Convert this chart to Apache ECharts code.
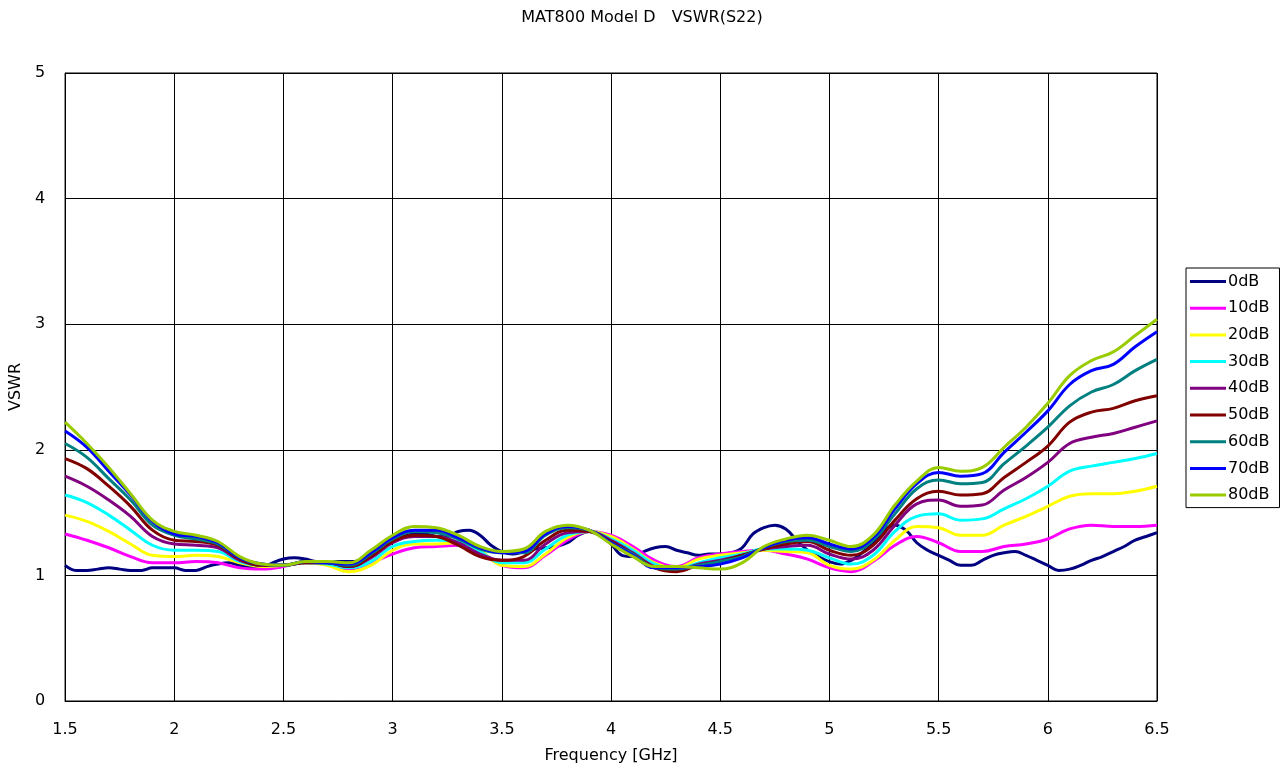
<!DOCTYPE html>
<html>
<head>
<meta charset="utf-8">
<script src="https://cdn.jsdelivr.net/npm/echarts@6/dist/echarts.min.js"></script>
<style>html,body{margin:0;padding:0;background:#fff}#c{width:1286px;height:769px}</style>
</head>
<body>
<div id="c"></div>
<script>
const freq = [1.5,1.6,1.7,1.8,1.9,2.0,2.1,2.2,2.3,2.4,2.5,2.6,2.7,2.8,2.9,3.0,3.1,3.2,3.3,3.4,3.5,3.6,3.7,3.8,3.9,4.0,4.1,4.2,4.3,4.4,4.5,4.6,4.7,4.8,4.9,5.0,5.1,5.2,5.3,5.4,5.5,5.6,5.7,5.8,5.9,6.0,6.1,6.2,6.3,6.4,6.5];
const freqFine = [1.5,1.55,1.6,1.65,1.7,1.75,1.8,1.85,1.9,1.95,2.0,2.05,2.1,2.15,2.2,2.25,2.3,2.35,2.4,2.45,2.5,2.55,2.6,2.65,2.7,2.75,2.8,2.85,2.9,2.95,3.0,3.05,3.1,3.15,3.2,3.25,3.3,3.35,3.4,3.45,3.5,3.55,3.6,3.65,3.7,3.75,3.8,3.85,3.9,3.95,4.0,4.05,4.1,4.15,4.2,4.25,4.3,4.35,4.4,4.45,4.5,4.55,4.6,4.65,4.7,4.75,4.8,4.85,4.9,4.95,5.0,5.05,5.1,5.15,5.2,5.25,5.3,5.35,5.4,5.45,5.5,5.55,5.6,5.65,5.7,5.75,5.8,5.85,5.9,5.95,6.0,6.05,6.1,6.15,6.2,6.25,6.3,6.35,6.4,6.45,6.5];
const db0 = [1.08,1.04,1.04,1.05,1.06,1.05,1.04,1.04,1.06,1.06,1.06,1.04,1.04,1.07,1.09,1.10,1.08,1.07,1.06,1.10,1.13,1.14,1.13,1.11,1.10,1.11,1.11,1.12,1.16,1.22,1.27,1.31,1.33,1.33,1.31,1.31,1.35,1.36,1.32,1.24,1.19,1.17,1.19,1.21,1.22,1.23,1.26,1.32,1.35,1.32,1.25,1.16,1.15,1.19,1.22,1.23,1.20,1.18,1.16,1.17,1.17,1.18,1.22,1.33,1.38,1.40,1.37,1.28,1.20,1.15,1.11,1.09,1.12,1.18,1.26,1.36,1.40,1.36,1.26,1.20,1.16,1.12,1.08,1.08,1.12,1.16,1.18,1.19,1.16,1.12,1.08,1.04,1.05,1.08,1.12,1.15,1.19,1.23,1.28,1.31,1.34];
const db10 = [1.33,1.28,1.22,1.15,1.10,1.10,1.11,1.10,1.06,1.05,1.07,1.11,1.09,1.05,1.10,1.17,1.22,1.23,1.24,1.19,1.08,1.06,1.16,1.28,1.35,1.32,1.23,1.12,1.07,1.14,1.17,1.19,1.20,1.17,1.13,1.06,1.03,1.11,1.24,1.31,1.26,1.19,1.19,1.23,1.25,1.29,1.37,1.40,1.39,1.39,1.40];
const db20 = [1.48,1.43,1.35,1.25,1.16,1.15,1.16,1.15,1.10,1.07,1.08,1.10,1.08,1.03,1.08,1.20,1.25,1.25,1.26,1.20,1.08,1.07,1.17,1.30,1.35,1.31,1.21,1.10,1.06,1.13,1.16,1.18,1.20,1.19,1.18,1.08,1.05,1.12,1.28,1.39,1.38,1.32,1.32,1.40,1.47,1.55,1.63,1.65,1.65,1.67,1.71];
const db30 = [1.64,1.58,1.48,1.36,1.24,1.20,1.20,1.19,1.11,1.08,1.08,1.10,1.09,1.06,1.11,1.23,1.27,1.28,1.27,1.19,1.10,1.10,1.21,1.32,1.35,1.29,1.20,1.09,1.05,1.10,1.14,1.17,1.21,1.21,1.20,1.14,1.09,1.16,1.35,1.47,1.49,1.44,1.45,1.53,1.61,1.71,1.83,1.87,1.90,1.93,1.97];
const db40 = [1.79,1.71,1.60,1.47,1.31,1.25,1.24,1.22,1.12,1.08,1.08,1.10,1.10,1.07,1.14,1.26,1.31,1.31,1.26,1.17,1.12,1.12,1.25,1.34,1.35,1.28,1.18,1.07,1.04,1.09,1.12,1.16,1.21,1.23,1.24,1.17,1.13,1.20,1.40,1.57,1.60,1.55,1.56,1.68,1.78,1.90,2.05,2.10,2.13,2.18,2.23];
const db50 = [1.93,1.85,1.71,1.55,1.36,1.28,1.27,1.24,1.13,1.08,1.08,1.10,1.10,1.07,1.15,1.27,1.32,1.31,1.24,1.15,1.12,1.15,1.28,1.36,1.35,1.27,1.17,1.06,1.03,1.08,1.11,1.16,1.21,1.25,1.27,1.20,1.16,1.24,1.44,1.61,1.67,1.64,1.65,1.78,1.90,2.03,2.22,2.30,2.33,2.39,2.43];
const db60 = [2.05,1.94,1.77,1.60,1.40,1.32,1.29,1.25,1.14,1.09,1.08,1.11,1.10,1.08,1.17,1.29,1.35,1.34,1.29,1.21,1.18,1.18,1.32,1.38,1.36,1.26,1.17,1.06,1.05,1.08,1.11,1.15,1.22,1.27,1.28,1.23,1.19,1.28,1.49,1.69,1.76,1.73,1.74,1.89,2.03,2.18,2.35,2.46,2.52,2.63,2.72];
const db70 = [2.15,2.02,1.83,1.64,1.43,1.33,1.31,1.26,1.14,1.09,1.08,1.11,1.10,1.09,1.18,1.30,1.36,1.36,1.30,1.22,1.18,1.19,1.33,1.39,1.36,1.26,1.16,1.06,1.06,1.07,1.09,1.14,1.22,1.28,1.30,1.25,1.21,1.30,1.53,1.73,1.82,1.79,1.81,1.98,2.14,2.31,2.52,2.63,2.68,2.82,2.94];
const db80 = [2.22,2.05,1.86,1.65,1.44,1.35,1.32,1.27,1.15,1.09,1.08,1.11,1.11,1.10,1.20,1.32,1.39,1.38,1.32,1.23,1.19,1.21,1.35,1.40,1.36,1.25,1.15,1.07,1.07,1.06,1.05,1.10,1.23,1.29,1.32,1.28,1.23,1.32,1.56,1.75,1.86,1.83,1.86,2.02,2.18,2.37,2.59,2.71,2.78,2.91,3.04];
const xTicks = [1.5,2,2.5,3,3.5,4,4.5,5,5.5,6,6.5];
const yTicks = [0,1,2,3,4,5];

const names = ['0dB','10dB','20dB','30dB','40dB','50dB','60dB','70dB','80dB'];
const colors = ['#000080','#FF00FF','#FFFF00','#00FFFF','#800080','#800000','#008080','#0000FF','#99CC00'];
const valueSets = [db0,db10,db20,db30,db40,db50,db60,db70,db80];

const FONT = '"DejaVu Sans", "Liberation Sans", sans-serif';
const FS = 16;
const series = valueSets.map((vals, i) => {
  const xs = vals.length === freqFine.length ? freqFine : freq;
  return {
    name: names[i], type: 'line', smooth: 0.4, symbol: 'none',
    data: vals.map((v, k) => [xs[k], v]),
    lineStyle: { width: 3, color: colors[i] }, itemStyle: { color: colors[i] },
    z: 2 + i
  };
});

const chart = echarts.init(document.getElementById('c'), null, { renderer: 'canvas' });
chart.setOption({
  animation: false,
  backgroundColor: '#fff',
  title: {
    text: 'MAT800 Model D\u3000VSWR(S22)', left: 637, top: 5, textAlign: 'center',
    textStyle: { fontFamily: FONT, fontSize: FS, fontWeight: 'normal', color: '#000' }
  },
  grid: { left: 65, right: 129, top: 73, bottom: 66, show: true, borderColor: '#000', borderWidth: 1 },
  xAxis: {
    type: 'value', min: 1.5, max: 6.5, interval: 0.5,
    name: 'Frequency [GHz]', nameLocation: 'middle', nameGap: 47,
    nameTextStyle: { fontFamily: FONT, fontSize: FS, color: '#000' },
    axisLine: { lineStyle: { color: '#000' } }, axisTick: { show: false },
    axisLabel: { fontFamily: FONT, fontSize: FS, color: '#000', margin: 21, formatter: v => String(v) },
    splitLine: { show: true, lineStyle: { color: '#000', width: 1 } }
  },
  yAxis: {
    type: 'value', min: 0, max: 5, interval: 1,
    name: 'VSWR', nameLocation: 'middle', nameGap: 38, nameRotate: 90,
    nameTextStyle: { fontFamily: FONT, fontSize: FS, color: '#000' },
    axisLine: { lineStyle: { color: '#000' } }, axisTick: { show: false },
    axisLabel: { fontFamily: FONT, fontSize: FS, color: '#000', margin: 20 },
    splitLine: { show: true, lineStyle: { color: '#000', width: 1 } }
  },
  legend: {
    orient: 'vertical', left: 1186, top: 268,
    data: names, icon: 'rect', itemWidth: 36, itemHeight: 3, itemGap: 9.7,
    borderColor: '#000', borderWidth: 1, padding: [5, 10, 4, 4], backgroundColor: '#fff',
    textStyle: { fontFamily: FONT, fontSize: FS, color: '#000', lineHeight: 17, padding: [0, 0, 0, -3] }
  },
  series: series
});
</script>
</body>
</html>
